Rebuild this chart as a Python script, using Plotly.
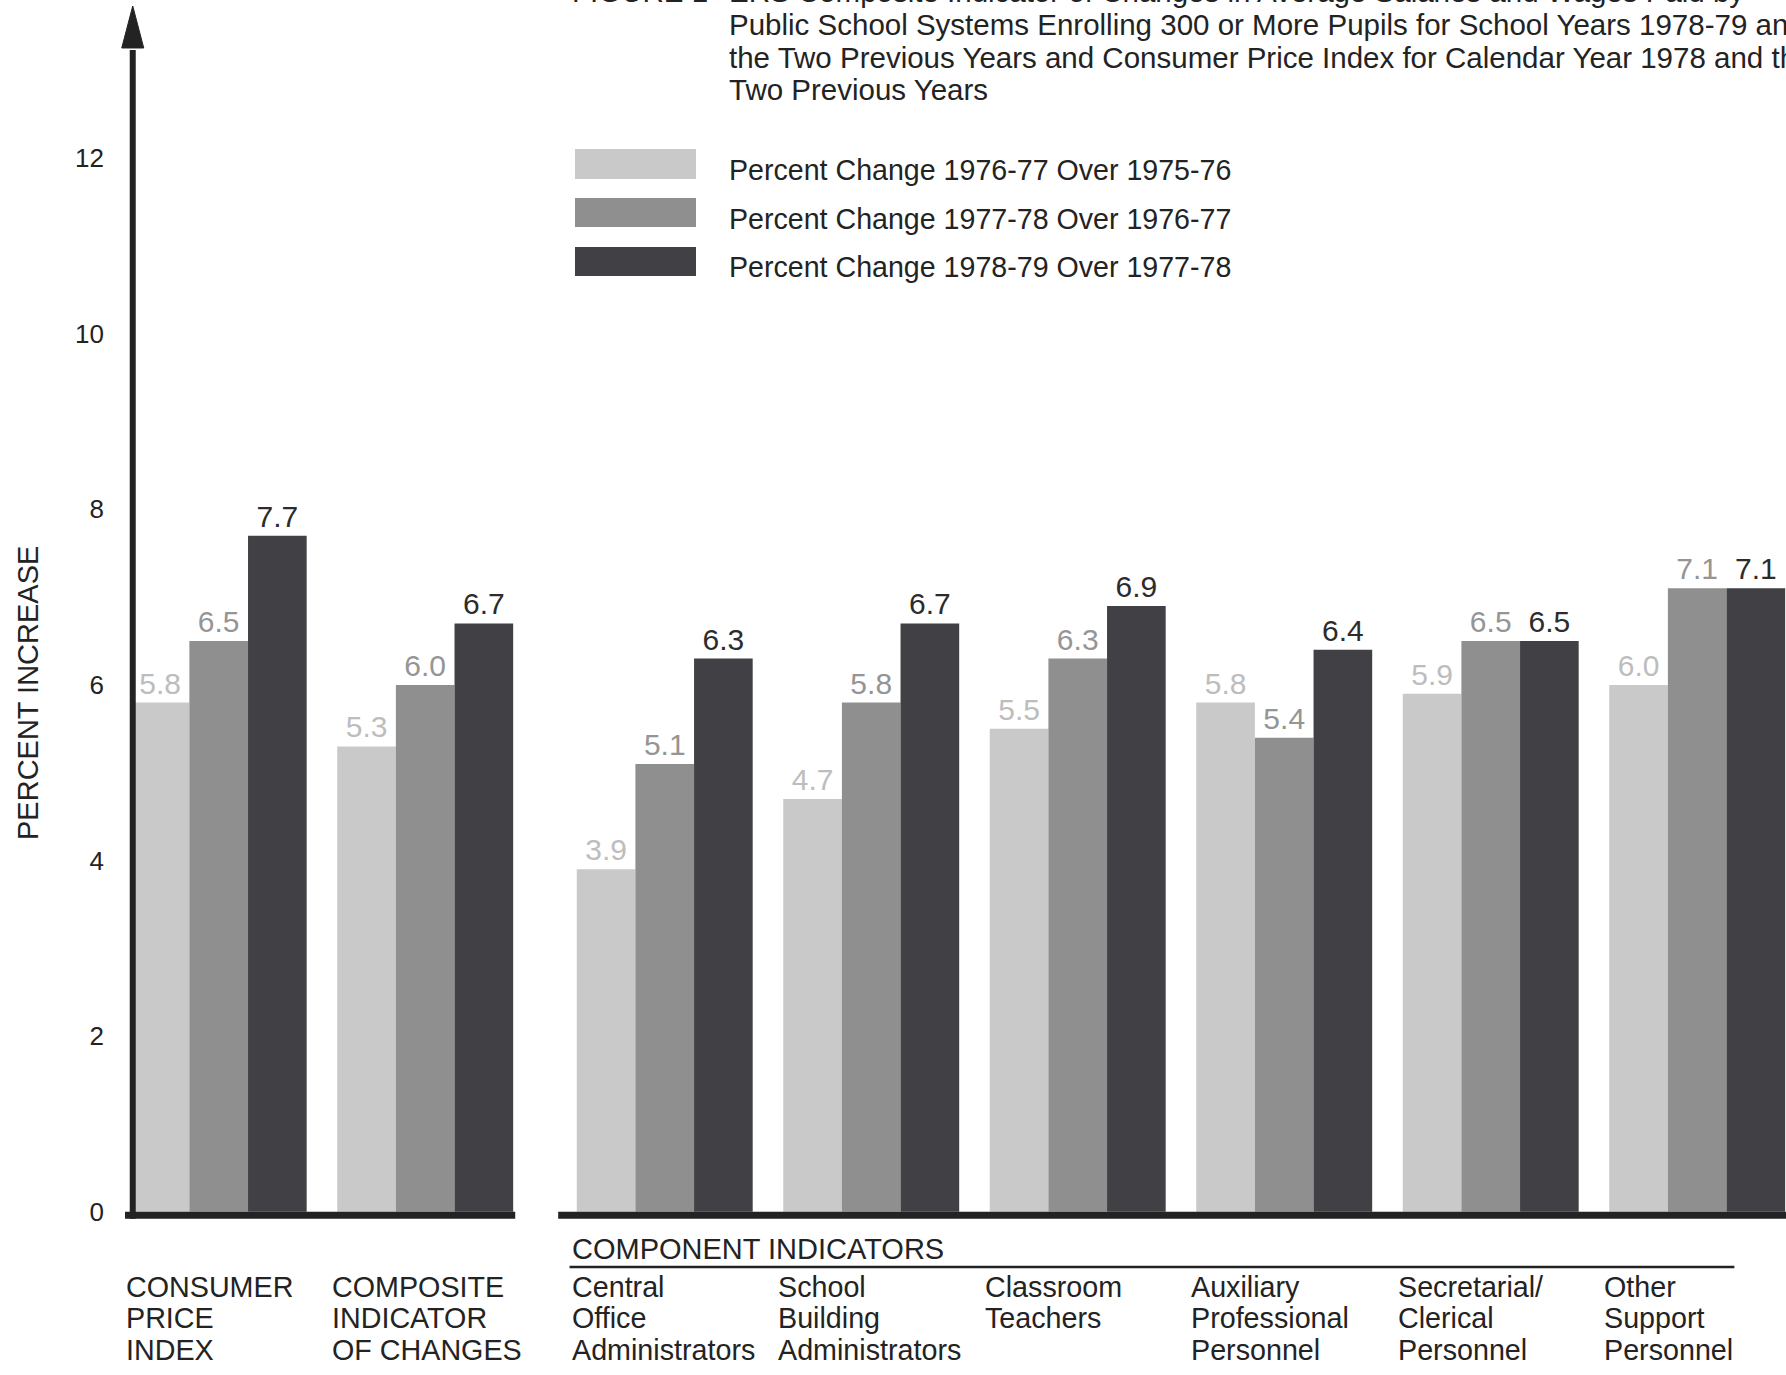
import plotly.graph_objects as go

# ---------------------------------------------------------------- data
group_labels = [
    ["CONSUMER", "PRICE", "INDEX"],
    ["COMPOSITE", "INDICATOR", "OF CHANGES"],
    ["Central", "Office", "Administrators"],
    ["School", "Building", "Administrators"],
    ["Classroom", "Teachers"],
    ["Auxiliary", "Professional", "Personnel"],
    ["Secretarial/", "Clerical", "Personnel"],
    ["Other", "Support", "Personnel"],
]
series_names = [
    "Percent Change 1976-77 Over 1975-76",
    "Percent Change 1977-78 Over 1976-77",
    "Percent Change 1978-79 Over 1977-78",
]
change_1976_77 = [5.8, 5.3, 3.9, 4.7, 5.5, 5.8, 5.9, 6.0]
change_1977_78 = [6.5, 6.0, 5.1, 5.8, 6.3, 5.4, 6.5, 7.1]
change_1978_79 = [7.7, 6.7, 6.3, 6.7, 6.9, 6.4, 6.5, 7.1]
y_ticks = [0, 2, 4, 6, 8, 10, 12]

title_lines = [
    "ERS Composite Indicator of Changes in Average Salaries and Wages Paid by",
    "Public School Systems Enrolling 300 or More Pupils for School Years 1978-79 and",
    "the Two Previous Years and Consumer Price Index for Calendar Year 1978 and the",
    "Two Previous Years",
]
figure_tag = "FIGURE 1"
section_label = "COMPONENT INDICATORS"
y_title = "PERCENT INCREASE"

# ---------------------------------------------------------------- styling
W, H = 1786, 1375
M_L, M_R, M_T, M_B = 125, 0, 0, 150
FONT = "Liberation Sans, Arial, Helvetica, sans-serif"
INK = "#232323"
fills = ["#c9c9c9", "#8f8f8f", "#414145"]
label_colors = ["#bdbdbd", "#959595", "#2c2c2c"]

N_SUMMARY = 2          # CPI + composite, drawn before the component block
SECTION_GAP = 0.16     # extra space before the component indicators
BAR_W = 0.284
X_RANGE = [-0.4538, 7.590]
Y_RANGE = [-0.15, 13.80]
BASE_T = 0.08          # thickness of the heavy base rule (data units)

xpos = [i + (SECTION_GAP if i >= N_SUMMARY else 0) for i in range(len(group_labels))]

plot_w = W - M_L - M_R
plot_h = H - M_T - M_B


def x_to_px(x):
    return M_L + (x - X_RANGE[0]) / (X_RANGE[1] - X_RANGE[0]) * plot_w


def y_to_py(y):
    return M_T + (Y_RANGE[1] - y) / (Y_RANGE[1] - Y_RANGE[0]) * plot_h


def px_paper(px):
    return (px - M_L) / plot_w


def py_paper(py):
    return (H - M_B - py) / plot_h


fig = go.Figure()

series = [change_1976_77, change_1977_78, change_1978_79]
for k, (name, vals) in enumerate(zip(series_names, series)):
    fig.add_trace(go.Bar(
        x=xpos,
        y=vals,
        name=name,
        width=BAR_W,
        offset=-1.5 * BAR_W + k * BAR_W,
        marker=dict(color=fills[k], line=dict(width=0)),
        texttemplate="%{y:.1f}",
        textposition="outside",
        textfont=dict(family=FONT, size=30, color=label_colors[k]),
        cliponaxis=False,
        constraintext="none",
        showlegend=False,
        hoverinfo="skip",
    ))

shapes = []
annotations = []

# heavy base rules: one under the summary groups, one under the components
left_edge = xpos[0] - 1.5 * BAR_W
shapes.append(dict(type="rect", xref="x", yref="y",
                   x0=left_edge - 0.03, x1=xpos[N_SUMMARY - 1] + 1.5 * BAR_W + 0.01,
                   y0=-BASE_T, y1=0, fillcolor=INK, line=dict(width=0)))
shapes.append(dict(type="rect", xref="x", yref="y",
                   x0=xpos[N_SUMMARY] - 1.5 * BAR_W - 0.09, x1=X_RANGE[1] + 0.1,
                   y0=-BASE_T, y1=0, fillcolor=INK, line=dict(width=0)))

# vertical axis with arrowhead
ax_px = x_to_px(left_edge) + 2
tip_py, head_py, head_half = 6, 48, 11
shapes.append(dict(type="line", xref="paper", yref="paper",
                   x0=px_paper(ax_px), x1=px_paper(ax_px),
                   y0=py_paper(y_to_py(-BASE_T)), y1=py_paper(head_py + 2),
                   line=dict(color=INK, width=6)))
path = "M {:.5f},{:.5f} L {:.5f},{:.5f} L {:.5f},{:.5f} Z".format(
    px_paper(ax_px), py_paper(tip_py),
    px_paper(ax_px - head_half), py_paper(head_py),
    px_paper(ax_px + head_half), py_paper(head_py))
shapes.append(dict(type="path", xref="paper", yref="paper", path=path,
                   fillcolor=INK, line=dict(color=INK, width=1)))

# y-axis title
annotations.append(dict(text=y_title, xref="paper", yref="paper",
                        x=px_paper(28), y=py_paper(693), showarrow=False,
                        textangle=-90, xanchor="center", yanchor="middle",
                        font=dict(family=FONT, size=29, color=INK)))

# category labels, left aligned under each group
LINE_PX = 31.3
for xp, lines in zip(xpos, group_labels):
    lx = px_paper(x_to_px(xp - 1.5 * BAR_W - 0.035))
    for j, line in enumerate(lines):
        annotations.append(dict(text=line, xref="paper", yref="paper",
                                x=lx, y=py_paper(1287 + j * LINE_PX),
                                showarrow=False, xanchor="left", yanchor="middle",
                                font=dict(family=FONT, size=28.7, color=INK)))

# component section heading with rule
sec_x = xpos[N_SUMMARY] - 1.5 * BAR_W - 0.035
annotations.append(dict(text=section_label, xref="x", yref="paper",
                        x=sec_x, y=py_paper(1249), showarrow=False,
                        xanchor="left", yanchor="middle",
                        font=dict(family=FONT, size=29, color=INK)))
shapes.append(dict(type="line", xref="x", yref="paper",
                   x0=sec_x, x1=xpos[-1] + 0.18,
                   y0=py_paper(1267), y1=py_paper(1267),
                   line=dict(color=INK, width=2.5)))

# figure title
TITLE_X, TITLE_Y0, TITLE_DY = 727, -8, 32.5
annotations.append(dict(text=figure_tag, xref="paper", yref="paper",
                        x=px_paper(570), y=py_paper(TITLE_Y0), showarrow=False,
                        xanchor="left", yanchor="middle",
                        font=dict(family=FONT, size=29.5, color=INK)))
for j, line in enumerate(title_lines):
    annotations.append(dict(text=line, xref="paper", yref="paper",
                            x=px_paper(TITLE_X), y=py_paper(TITLE_Y0 + j * TITLE_DY),
                            showarrow=False, xanchor="left", yanchor="middle",
                            font=dict(family=FONT, size=29.5, color=INK)))

# legend: wide swatches with labels
sw_x0, sw_x1 = 575, 696
sw_rows = [(149, 179), (198, 227), (247, 276)]
for k, (name, (r0, r1)) in enumerate(zip(series_names, sw_rows)):
    shapes.append(dict(type="rect", xref="paper", yref="paper",
                       x0=px_paper(sw_x0), x1=px_paper(sw_x1),
                       y0=py_paper(r1), y1=py_paper(r0),
                       fillcolor=fills[k], line=dict(width=0)))
    annotations.append(dict(text=name, xref="paper", yref="paper",
                            x=px_paper(727), y=py_paper((r0 + r1) / 2 + 6),
                            showarrow=False, xanchor="left", yanchor="middle",
                            font=dict(family=FONT, size=28.6, color=INK)))

fig.update_layout(
    width=W, height=H,
    margin=dict(l=M_L, r=M_R, t=M_T, b=M_B, pad=0),
    paper_bgcolor="white", plot_bgcolor="white",
    barmode="overlay",
    xaxis=dict(range=X_RANGE, visible=False, fixedrange=True),
    yaxis=dict(range=Y_RANGE, tickvals=y_ticks, ticktext=[str(t) for t in y_ticks],
               showgrid=False, zeroline=False, showline=False, ticks="",
               ticklabelstandoff=20,
               tickfont=dict(family=FONT, size=26, color=INK), fixedrange=True),
    shapes=shapes,
    annotations=annotations,
    showlegend=False,
)

fig.write_html("out.html")
